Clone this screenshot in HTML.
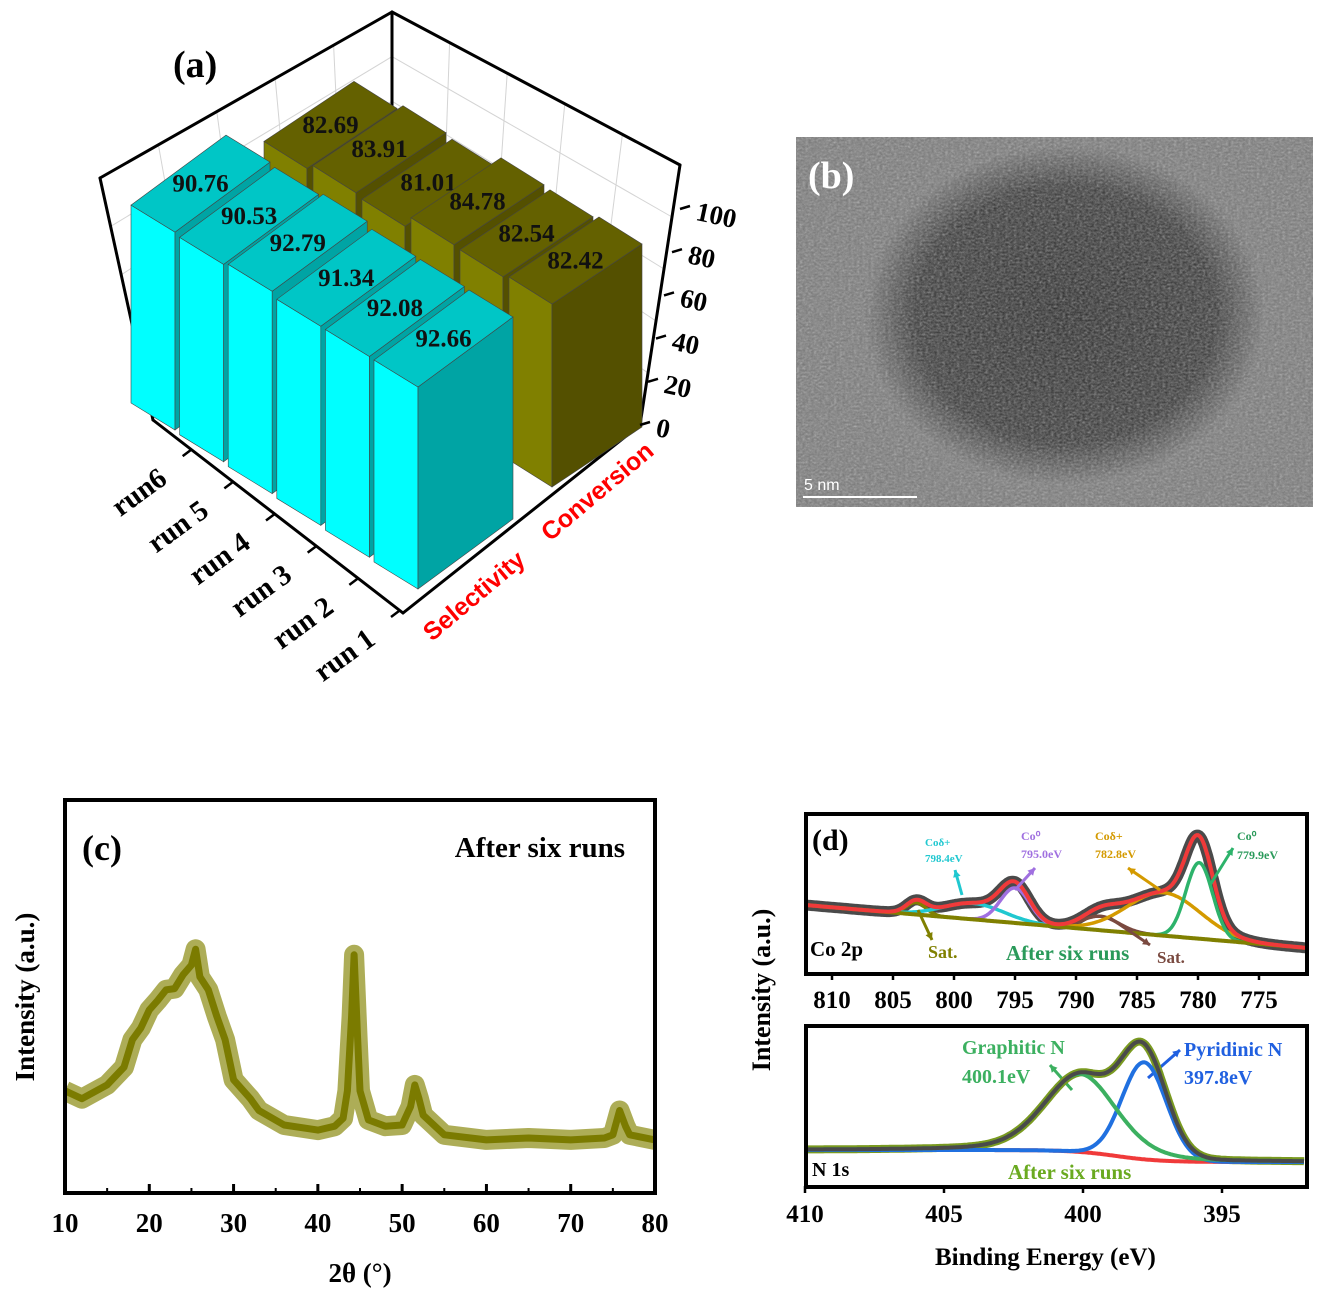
<!DOCTYPE html>
<html><head><meta charset="utf-8"><style>
html,body{margin:0;padding:0;background:#fff;}
svg{display:block;}
text{font-family:"Liberation Serif",serif;font-weight:bold;}
</style></head><body>
<svg id="fig" width="1328" height="1299" viewBox="0 0 1328 1299" xmlns="http://www.w3.org/2000/svg">
<defs>
<radialGradient id="blob" cx="0.5" cy="0.5" r="0.5">
<stop offset="0" stop-color="#262626"/><stop offset="0.75" stop-color="#333"/><stop offset="1" stop-color="#333" stop-opacity="0"/>
</radialGradient>
<filter id="noise" x="0" y="0" width="100%" height="100%">
<feTurbulence type="fractalNoise" baseFrequency="0.35 0.5" numOctaves="3" seed="3"/>
<feColorMatrix type="saturate" values="0"/>
</filter>
</defs>
<g id="pa"></g>
<g id="pb">
<rect x="796" y="137" width="517" height="370" fill="#777"/>
<ellipse cx="1065" cy="315" rx="200" ry="170" fill="url(#blob)"/>
<rect x="796" y="137" width="517" height="370" filter="url(#noise)" opacity="0.6"/>
<text x="808" y="188" font-size="38" fill="#fff">(b)</text>
<text x="804" y="490" font-size="16" fill="#fff" style="font-family:'Liberation Sans',sans-serif;font-weight:normal">5 nm</text>
<line x1="803" y1="497" x2="917" y2="497" stroke="#fff" stroke-width="2"/>
</g>
<g id="pc"></g>
<g id="pd"></g>
</svg>
<script>
const NS='http://www.w3.org/2000/svg';
function mk(parent,tag,attrs,txt){const e=document.createElementNS(NS,tag);for(const k in attrs)e.setAttribute(k,attrs[k]);if(txt!==undefined)e.textContent=txt;parent.appendChild(e);return e;}

/* ---------- Panel (a) data ---------- */
const runLabels=['run 1','run 2','run 3','run 4','run 5','run6'];
const selectivity=[92.66,92.08,91.34,92.79,90.53,90.76];
const conversion=[82.42,82.54,84.78,81.01,83.91,82.69];
const zTicks=[0,20,40,60,80,100];

/* ---------- Panel (c) data ---------- */
const xrdAngle=[10,12,15,17,18,19,20,21,22,23,24,25,25.5,26,27,28,29,30,32,33,36,40,42,43,43.5,44,44.3,44.7,45,46,48,50,51,51.5,52,52.5,55,60,65,70,74,75,75.8,76.5,77,80];
const xrdIntensity=[26,24,27.5,32,39,42,46.6,49,51.7,52,55.5,58,62,55,51.7,45,39,28.8,24,21,17.3,16,17,19,26,45,60.6,40,26,18.6,17,17.3,22,27.5,24,19.8,14.8,13.5,14,13.5,14,14.8,21,17,14.8,13.5];
const xrdTicks=[10,20,30,40,50,60,70,80];

/* ---------- Panel (d) data ---------- */
const coCenters=[779.9,782.8,795.0,798.4,803.1,788.0];
const coHeights=[76,43,35,16,12,14];
const coSigmas=[1.1,3.0,1.2,2.5,0.8,1.5];
const coTicks=[810,805,800,795,790,785,780,775];
const nCenters=[400.1,397.8];
const nHeights=[78,97];
const nSigmas=[1.3,0.8];
const nTicks=[410,405,400,395];

/* ===== Panel (a) ===== */
(function(){
const g=document.getElementById('pa');
const rows=[{O:[418,589],RS:[-48.6,-31.8],K:2.18,L:[-44,-27],D:[95,-70]},
            {O:[552,487],RS:[-49,-27],K:2.22,L:[-43,-27],D:[90,-60]}];
function P(pts){return pts.map(p=>p[0].toFixed(1)+','+p[1].toFixed(1)).join(' ');}
const grid=mk(g,'g',{stroke:'#d4d4d4','stroke-width':1,fill:'none'});


for(let t=0.2;t<1;t+=0.2){
 mk(grid,'line',{x1:100+53*t,y1:178+242*t,x2:392,y2:12+223*t});
 mk(grid,'line',{x1:392,y1:12+223*t,x2:680-40*t,y2:165+260*t});
 mk(grid,'line',{x1:100+292*t,y1:178-166*t,x2:153+239*t,y2:420-185*t});
 mk(grid,'line',{x1:392+288*t,y1:12+153*t,x2:392+248*t,y2:235+190*t});
}
const ax=mk(g,'g',{stroke:'#000','stroke-width':3,fill:'none','stroke-linecap':'round'});


[[100,178,153,420],[100,178,392,12],[392,12,680,165],[392,12,392,235],[680,165,640,425],[153,420,403,613],[403,613,640,425]].forEach(l=>mk(ax,'line',{x1:l[0],y1:l[1],x2:l[2],y2:l[3]}));
const cols=[{l:'#00ffff',d:'#00a4a4',t:'#00c6c6'},{l:'#808000',d:'#545000',t:'#646100'}];
const series=[selectivity,conversion];
for(let j=1;j>=0;j--){
 const R=rows[j];
 for(let i=5;i>=0;i--){
  const v=series[j][i];
  const F=[R.O[0]+i*R.RS[0],R.O[1]+i*R.RS[1]];
  const h=v*R.K;const L=R.L,D=R.D;
  const bar=mk(g,'g',{stroke:'#444','stroke-width':0.6});
  
  
  const Fu=[F[0],F[1]-h];
  mk(bar,'polygon',{points:P([F,[F[0]+L[0],F[1]+L[1]],[Fu[0]+L[0],Fu[1]+L[1]],Fu]),fill:cols[j].l});
  mk(bar,'polygon',{points:P([F,[F[0]+D[0],F[1]+D[1]],[Fu[0]+D[0],Fu[1]+D[1]],Fu]),fill:cols[j].d});
  mk(bar,'polygon',{points:P([Fu,[Fu[0]+L[0],Fu[1]+L[1]],[Fu[0]+L[0]+D[0],Fu[1]+L[1]+D[1]],[Fu[0]+D[0],Fu[1]+D[1]]]),fill:cols[j].t});
  const lb=mk(g,'text',{x:Fu[0]+(L[0]+D[0])/2,y:Fu[1]+(L[1]+D[1])/2+8,'font-size':25,'text-anchor':'middle',fill:'#111'},v.toFixed(2));
  
  
 }
}
zTicks.forEach(z=>{
 const y=425-z*2.16, x=640+40*(z/100);
 mk(g,'line',{x1:x,y1:y,x2:x+10,y2:y-3,stroke:'#000','stroke-width':2.5});
 const t=mk(g,'text',{x:x+17,y:y+11,'font-size':27,transform:`rotate(12 ${x+17} ${y})`},String(z));
 
 
});
runLabels.forEach((r,i)=>{
 const bx=403-i*(250/6)-22, by=613-i*(193/6)-16;
 mk(g,'line',{x1:bx+18,y1:by+14,x2:bx+10,y2:by+20,stroke:'#000','stroke-width':2.5});
 const t=mk(g,'text',{x:bx-4,y:by+46,'font-size':29,'text-anchor':'end',transform:`rotate(-36 ${bx-4} ${by+46})`},r);
 
 
});
const s=mk(g,'text',{x:432,y:642,'font-size':25,fill:'#ff0000',style:"font-family:'Liberation Sans',sans-serif",transform:'rotate(-40 432 642)'},'Selectivity');


const c=mk(g,'text',{x:550,y:542,'font-size':25,fill:'#ff0000',style:"font-family:'Liberation Sans',sans-serif",transform:'rotate(-40 550 542)'},'Conversion');


const pl=mk(g,'text',{x:173,y:77,'font-size':38},'(a)');


})();

/* ===== Panel (c) ===== */
(function(){
const g=document.getElementById('pc');
const X0=65,X1=655,Y0=1193,Y1=800;
const xs=a=>X0+(a-10)/70*(X1-X0);
const ys=v=>Y0-v*(Y0-Y1)/100;
const pts=xrdAngle.map((a,k)=>xs(a).toFixed(1)+','+ys(xrdIntensity[k]).toFixed(1)).join(' ');
const band=mk(g,'polyline',{points:pts,fill:'none',stroke:'#8a8a10','stroke-width':20,'stroke-linejoin':'round',opacity:0.7});


const line=mk(g,'polyline',{points:pts,fill:'none',stroke:'#7b7b00','stroke-width':7,'stroke-linejoin':'round'});


mk(g,'rect',{x:X0-15,y:Y1-10,width:15,height:Y0-Y1+20,fill:'#fff'});
mk(g,'rect',{x:X1,y:Y1-10,width:15,height:Y0-Y1+20,fill:'#fff'});
const fr=mk(g,'rect',{x:X0,y:Y1,width:X1-X0,height:Y0-Y1,fill:'none',stroke:'#000','stroke-width':4});


xrdTicks.forEach(t=>{
 mk(g,'line',{x1:xs(t),y1:Y0,x2:xs(t),y2:Y0-9,stroke:'#000','stroke-width':3});
 const tx=mk(g,'text',{x:xs(t),y:1232,'font-size':27,'text-anchor':'middle'},String(t));
 
 
});
for(let t=15;t<80;t+=10) mk(g,'line',{x1:xs(t),y1:Y0,x2:xs(t),y2:Y0-5,stroke:'#000','stroke-width':2});
const xl=mk(g,'text',{x:360,y:1282,'font-size':27,'text-anchor':'middle'},'2θ (°)');


const yl=mk(g,'text',{x:34,y:997,'font-size':27,'text-anchor':'middle',transform:'rotate(-90 34 997)'},'Intensity  (a.u.)');


const pl=mk(g,'text',{x:82,y:860,'font-size':36},'(c)');


const an=mk(g,'text',{x:625,y:857,'font-size':29,'text-anchor':'end'},'After six runs');


})();

/* ===== Panel (d) ===== */
(function(){
const g=document.getElementById('pd');
const gauss=(e,c,h,s)=>h*Math.exp(-0.5*((e-c)/s)**2);
const cX=e=>1198-(e-780)*12.2;
const cY=v=>975-v;
const cBase=e=>27+(e-771)/(812.2-771)*43;
const eList=[];for(let e=812.2;e>=771;e-=0.1)eList.push(e);
function pl(fn){return eList.map(e=>cX(e).toFixed(1)+','+cY(fn(e)).toFixed(1)).join(' ');}
const env=e=>cBase(e)+coCenters.reduce((s,c,k)=>s+gauss(e,c,coHeights[k],coSigmas[k]),0);
const raw=mk(g,'polyline',{points:pl(env),fill:'none',stroke:'#4a4a4a','stroke-width':11,'stroke-linejoin':'round'});


const compCols=['#2db36b','#d49a00','#a070e0','#20c8d0','#808000','#7a4a40'];
const compNames=['co0-779','co-delta-782','co0-795','co-delta-798','sat-803','sat-788'];
[5,4,3,2,1,0].forEach(k=>{
 const p=mk(g,'polyline',{points:pl(e=>cBase(e)+gauss(e,coCenters[k],coHeights[k],coSigmas[k])),fill:'none',stroke:compCols[k],'stroke-width':3.5});
 
 
});
const bl=mk(g,'polyline',{points:pl(cBase),fill:'none',stroke:'#808000','stroke-width':4});


const en=mk(g,'polyline',{points:pl(env),fill:'none',stroke:'#f03a3a','stroke-width':4});


mk(g,'rect',{x:806,y:814,width:501,height:160,fill:'none',stroke:'#000','stroke-width':4});
coTicks.forEach(t=>{
 mk(g,'line',{x1:cX(t),y1:974,x2:cX(t),y2:980,stroke:'#000','stroke-width':2.5});
 const tx=mk(g,'text',{x:cX(t),y:1008,'font-size':25,'text-anchor':'middle'},String(t));
 
 
});
const lbl=[['(d)',812,850,30,'#000'],['Co 2p',810,956,21,'#000'],['Sat.',928,958,18,'#808000'],['After six runs',1006,960,21,'#2a9a5a'],['Sat.',1157,963,17,'#7a4a40'],
['Coδ+',925,846,11,'#20c8d0'],['798.4eV',925,862,11,'#20c8d0'],['Co⁰',1021,840,12,'#a070e0'],['795.0eV',1021,858,12,'#a070e0'],
['Coδ+',1095,840,12,'#d49a00'],['782.8eV',1095,858,12,'#d49a00'],['Co⁰',1237,840,12,'#2a9a5a'],['779.9eV',1237,859,12,'#2a9a5a'],
['Graphitic N',962,1054,20,'#3cb060'],['400.1eV',962,1083,20,'#3cb060'],['Pyridinic N',1184,1056,20,'#2060e0'],['397.8eV',1184,1084,20,'#2060e0'],
['N 1s',812,1176,20,'#000'],['After six runs',1008,1179,21,'#6aaa20'],['Binding Energy (eV)',935,1265,25,'#000']];
lbl.forEach((l,k)=>{
 const t=mk(g,'text',{x:l[1],y:l[2],'font-size':l[3],fill:l[4]},l[0]);
 
 
});
const yl=mk(g,'text',{x:770,y:990,'font-size':26,'text-anchor':'middle',transform:'rotate(-90 770 990)'},'Intensity (a.u.)');


const arr=[[962,895,955,870,'#20c8d0'],[1015,890,1035,868,'#a070e0'],[1160,890,1128,868,'#d49a00'],[1210,885,1233,848,'#2db36b'],[918,910,932,940,'#808000'],[1110,918,1150,945,'#7a4a40'],[1072,1090,1050,1065,'#3cb060'],[1148,1078,1180,1050,'#2060e0']];
arr.forEach((a,k)=>{
 const gg=mk(g,'g',{stroke:a[4],'stroke-width':3,fill:a[4]});
 
 
 mk(gg,'line',{x1:a[0],y1:a[1],x2:a[2],y2:a[3]});
 const ang=Math.atan2(a[3]-a[1],a[2]-a[0]);const s=8;
 mk(gg,'polygon',{points:`${a[2]},${a[3]} ${a[2]-s*Math.cos(ang-0.5)},${a[3]-s*Math.sin(ang-0.5)} ${a[2]-s*Math.cos(ang+0.5)},${a[3]-s*Math.sin(ang+0.5)}`,stroke:'none'});
});
const nX=e=>805+(410-e)*27.8;
const nY=v=>1187-v;
const eN=[];for(let e=410;e>=392;e-=0.05)eN.push(e);
const bg=e=>25+12/(1+Math.exp(-(e-398.8)/0.8));
const pv=(e,c,h,s)=>h*(0.7*Math.exp(-0.5*((e-c)/s)**2)+0.3/(1+((e-c)/(1.2*s))**2));
const np=fn=>eN.map(e=>nX(e).toFixed(1)+','+nY(fn(e)).toFixed(1)).join(' ');
const gr=e=>bg(e)+pv(e,nCenters[0],nHeights[0],nSigmas[0]);
const py=e=>bg(e)+gauss(e,nCenters[1],nHeights[1],nSigmas[1]);
const nenv=e=>bg(e)+pv(e,nCenters[0],nHeights[0],nSigmas[0])+gauss(e,nCenters[1],nHeights[1],nSigmas[1]);
[[nenv,'#7a9a20',8,'n1s-raw-data'],[bg,'#f03a3a',4,'n1s-background'],[py,'#2070e0',4,'n1s-pyridinic'],[gr,'#3cb060',4,'n1s-graphitic'],[nenv,'#4a4a4a',4,'n1s-envelope']].forEach(s=>{
 const p=mk(g,'polyline',{points:np(s[0]),fill:'none',stroke:s[1],'stroke-width':s[2]});
 
 
});
mk(g,'rect',{x:806,y:1026,width:501,height:161,fill:'none',stroke:'#000','stroke-width':4});
nTicks.forEach(t=>{
 mk(g,'line',{x1:nX(t),y1:1186,x2:nX(t),y2:1193,stroke:'#000','stroke-width':2.5});
 const tx=mk(g,'text',{x:nX(t),y:1222,'font-size':25,'text-anchor':'middle'},String(t));
 
 
});
})();
</script>
</body></html>
